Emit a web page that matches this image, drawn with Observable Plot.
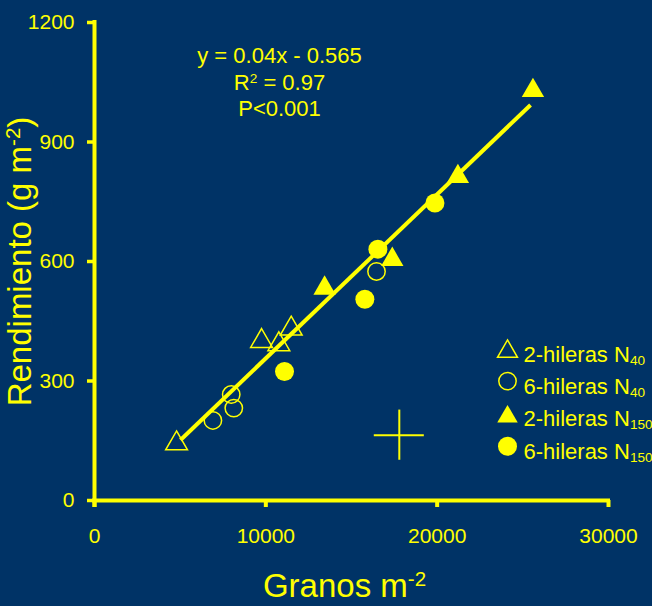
<!DOCTYPE html>
<html><head><meta charset="utf-8">
<script src="https://cdn.jsdelivr.net/npm/d3@7"></script>
<script src="https://cdn.jsdelivr.net/npm/@observablehq/plot@0.6"></script>
<style>
html,body{margin:0;padding:0;background:#003366;overflow:hidden;}
</style></head><body><div id="chart"></div>
<script>
// ---- data ----
const tri40X = [4790, 9750, 10760, 11480];      // 2-hileras N40 (open triangles)
const tri40Y = [143, 400, 392, 431];
const circ40X = [6910, 8130, 7980, 16460];      // 6-hileras N40 (open circles)
const circ40Y = [201, 232, 266, 575];
const tri150X = [13430, 17380, 21210, 25590];   // 2-hileras N150 (filled triangles)
const tri150Y = [533, 605, 813, 1029];
const circ150X = [11090, 15780, 16540, 19870];  // 6-hileras N150 (filled circles)
const circ150Y = [324, 505, 631, 747];
const fitX = [5020, 25450];                     // regression line end points
const fitY = [152, 993];
const crossX = [17790], crossY = [164], crossHalfX = [1460], crossHalfY = [63];
const xTicks = [0, 10000, 20000, 30000];
const yTicks = [0, 300, 600, 900, 1200];
const equationLines = ["y = 0.04x - 0.565", "R^{2} = 0.97", "P<0.001"];
const legendLabels = ["2-hileras N_{40}", "6-hileras N_{40}", "2-hileras N_{150}", "6-hileras N_{150}"];
const xTitle = "Granos m^{-2}";
const yTitle = "Rendimiento (g m^{-2})";

// ---- build tables ----
const zip = (X, Y) => X.map((x, i) => ({x, y: Y[i]}));
const tri40 = zip(tri40X, tri40Y), circ40 = zip(circ40X, circ40Y);
const tri150 = zip(tri150X, tri150Y), circ150 = zip(circ150X, circ150Y);
const fit = zip(fitX, fitY);
const cross = crossX.map((x, i) => ({x, y: crossY[i], hx: crossHalfX[i], hy: crossHalfY[i]}));

const YEL = "#ffff00", BG = "#003366";
const styles = [
  {symbol: "triangle", fill: "none", stroke: YEL, r: 7.4, tri: true},
  {symbol: "circle", fill: "none", stroke: YEL, r: 8.7, tri: false},
  {symbol: "triangle", fill: YEL, stroke: "none", r: 7.6, tri: true},
  {symbol: "circle", fill: YEL, stroke: "none", r: 9.5, tri: false}
];

const legendMarks = legendLabels.flatMap((lab, i) => {
  const s = styles[i];
  return [
    Plot.dot([lab], {frameAnchor: "top-left", dx: 413, dy: 326 + 32.6 * i + (s.tri ? 3 : 0),
      symbol: s.symbol, fill: s.fill, stroke: s.stroke, strokeWidth: 1.5, r: s.r}),
    Plot.text([lab], {text: d => d, frameAnchor: "top-left", textAnchor: "start", lineAnchor: "middle",
      dx: 429, dy: 332.5 + 32.2 * i, fontSize: 22, fill: YEL})
  ];
});

const chart = Plot.plot({
  width: 652, height: 606,
  marginLeft: 94, marginRight: 44, marginTop: 22, marginBottom: 106,
  style: {background: BG, color: YEL, fontFamily: "'Liberation Sans', Arial, sans-serif", fontSize: "21px"},
  x: {domain: [0, 30000], label: null},
  y: {domain: [0, 1200], label: null},
  marks: [
    Plot.axisX({ticks: xTicks, tickFormat: d => String(d), tickSize: 7, tickPadding: 21, strokeWidth: 4, fontSize: 21, label: null}),
    Plot.axisY({ticks: yTicks, tickFormat: d => String(d), tickSize: 7, tickPadding: 13, strokeWidth: 3.5, fontSize: 21, label: null}),
    Plot.ruleX([0], {stroke: YEL, strokeWidth: 4, insetTop: -2, insetBottom: -7}),
    Plot.ruleY([0], {stroke: YEL, strokeWidth: 4, insetLeft: -2, insetRight: -2}),
    Plot.line(fit, {x: "x", y: "y", stroke: YEL, strokeWidth: 4, strokeLinecap: "butt"}),
    Plot.ruleY(cross, {y: "y", x1: d => d.x - d.hx, x2: d => d.x + d.hx, stroke: YEL, strokeWidth: 2}),
    Plot.ruleX(cross, {x: "x", y1: d => d.y - d.hy, y2: d => d.y + d.hy, stroke: YEL, strokeWidth: 2}),
    Plot.dot(tri40, {x: "x", y: "y", symbol: "triangle", r: 8.1, fill: "none", stroke: YEL, strokeWidth: 1.5}),
    Plot.dot(circ40, {x: "x", y: "y", symbol: "circle", r: 8.7, fill: "none", stroke: YEL, strokeWidth: 1.5}),
    Plot.dot(tri150, {x: "x", y: "y", symbol: "triangle", r: 8.3, fill: YEL, stroke: "none"}),
    Plot.dot(circ150, {x: "x", y: "y", symbol: "circle", r: 9.5, fill: YEL, stroke: "none"}),
    Plot.text([equationLines.join("\n")], {text: d => d, frameAnchor: "top-left", dx: 185, dy: 22,
      lineAnchor: "top", textAnchor: "middle", lineHeight: 1.2, fontSize: 22, fill: YEL}),
    ...legendMarks,
    Plot.text([xTitle], {text: d => d, frameAnchor: "bottom", textAnchor: "middle", lineAnchor: "middle",
      dx: -7, dy: 86.4, fontSize: 33, fill: YEL}),
    Plot.text([yTitle], {text: d => d, frameAnchor: "left", textAnchor: "middle", lineAnchor: "middle",
      dx: -73.6, dy: 0, rotate: -90, fontSize: 33, fill: YEL})
  ]
});
document.getElementById("chart").appendChild(chart);

// ---- superscripts / subscripts as real tspans ----
function richify(svg) {
  const nodes = [...svg.querySelectorAll("text, tspan")]
    .filter(n => n.children.length === 0 && /[\^_]\{/.test(n.textContent));
  for (const n of nodes) {
    const str = n.textContent;
    const fs = parseFloat(getComputedStyle(n).fontSize);
    n.textContent = "";
    const re = /([\^_])\{([^}]*)\}/g;
    let last = 0, m;
    while ((m = re.exec(str))) {
      if (m.index > last) n.appendChild(document.createTextNode(str.slice(last, m.index)));
      const t = document.createElementNS("http://www.w3.org/2000/svg", "tspan");
      t.textContent = m[2];
      const sup = m[1] === "^";
      t.style.fontSize = (fs * 0.62).toFixed(1) + "px";
      t.style.baselineShift = (sup ? fs * 0.33 : -fs * 0.13).toFixed(1) + "px";
      n.appendChild(t);
      last = re.lastIndex;
    }
    if (last < str.length) n.appendChild(document.createTextNode(str.slice(last)));
  }
}
richify(chart);
</script></body></html>
